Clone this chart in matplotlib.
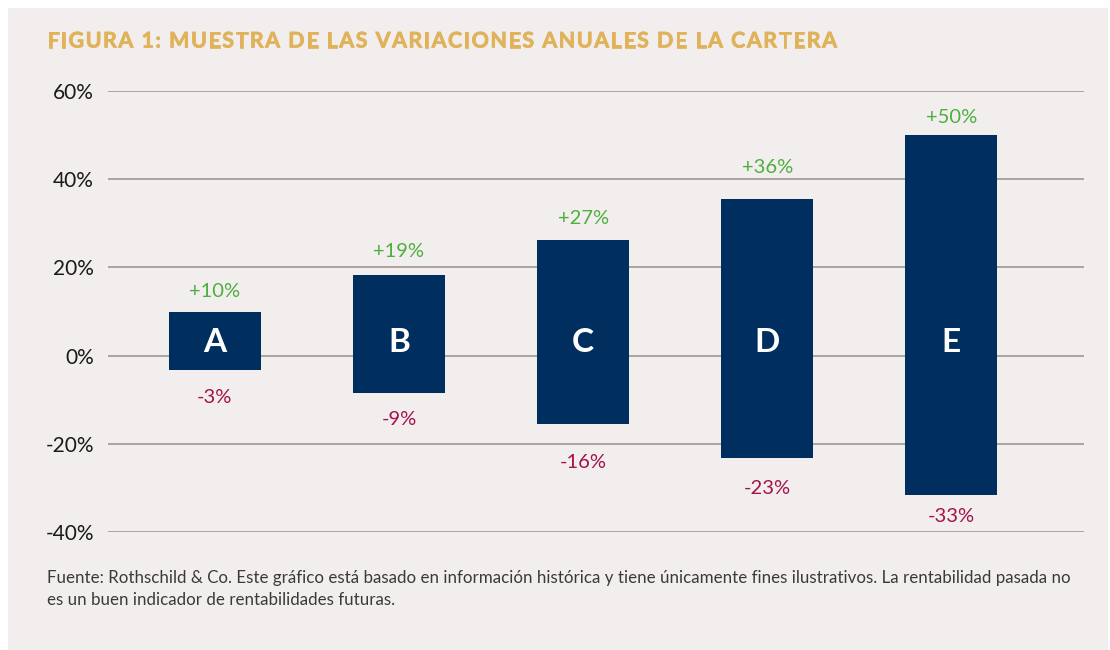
import matplotlib
matplotlib.use("Agg")
import matplotlib.pyplot as plt
import matplotlib.patheffects as pe
from matplotlib.patches import Rectangle
from matplotlib.font_manager import FontProperties, findfont
from matplotlib.ft2font import FT2Font

# data
categories = ["A", "B", "C", "D", "E"]
upside = [10.0, 18.3, 26.3, 35.5, 50.0]
downside = [-3.3, -8.4, -15.4, -23.3, -31.5]
up_labels = ["+10%", "+19%", "+27%", "+36%", "+50%"]
down_labels = ["-3%", "-9%", "-16%", "-23%", "-33%"]
yticks = [-40, -20, 0, 20, 40, 60]

# hand placed label gaps in the original (pixels from bar end to label centre)
up_gap = [22, 25.5, 23, 34, 19.5]
down_gap = [25, 25, 37, 28, 20]

title = "FIGURA 1: MUESTRA DE LAS VARIACIONES ANUALES DE LA CARTERA"
note = ("Fuente: Rothschild & Co. Este gráfico está basado en información histórica y tiene únicamente fines ilustrativos. La rentabilidad pasada no\n"
        "es un buen indicador de rentabilidades futuras.")

FONT = "Lato"
BG = "#f2eeed"
NAVY = "#002f5f"
GOLD = "#e0b25a"
GREEN = "#4caf3f"
RED = "#a3124c"

W, H = 1110, 650
PX = 0.72  # points per pixel at dpi 100
fig = plt.figure(figsize=(W / 100, H / 100), dpi=100)
fig.patch.set_facecolor("white")
fig.patches.append(Rectangle((8 / W, 0), 1100 / W, 642 / H, transform=fig.transFigure,
                             facecolor=BG, edgecolor="none", zorder=-10))

ax = fig.add_axes([108 / W, 1 - 532 / H, (1084 - 108) / W, (532 - 91) / H])
ax.set_facecolor("none")
x = list(range(len(categories)))
heights = [u - d for u, d in zip(upside, downside)]
ax.bar(x, heights, bottom=downside, width=0.5, color=NAVY, zorder=3)

ax.set_xlim(-0.58, 4.72)
ax.set_ylim(-40, 60)
ax.set_yticks(yticks)
ax.set_yticklabels([f"{t}%" for t in yticks], fontsize=15, family=FONT, color="#1a1a1a")
ax.tick_params(axis="y", length=0, pad=10)
ax.set_xticks([])
ax.grid(axis="y", color="#a9a49e", linewidth=1.4, zorder=0)
for s in ax.spines.values():
    s.set_visible(False)

half_cap = 7.5
for i, cat in enumerate(categories):
    ax.text(i, 3, cat, ha="center", va="center", color="white", fontsize=24,
            fontweight="bold", family=FONT, zorder=4)
    ax.annotate(up_labels[i], (i, upside[i]), xytext=(0, (up_gap[i] - half_cap) * PX),
                textcoords="offset points", ha="center", va="baseline",
                color=GREEN, fontsize=14.5, family=FONT)
    ax.annotate(down_labels[i], (i, downside[i]), xytext=(0, -(down_gap[i] + half_cap) * PX),
                textcoords="offset points", ha="center", va="baseline",
                color=RED, fontsize=14.5, family=FONT)

# letter-spaced title, laid out glyph by glyph from the font advances
tprops = dict(family=FONT, weight="bold", size=15.5)
ft = FT2Font(findfont(FontProperties(**tprops)))
ft.set_size(tprops["size"], 100)
advances = [ft.load_char(ord(ch)).linearHoriAdvance / 65536 for ch in title]
natural = sum(advances)
tracking = (790 - natural) / (len(title) - 1)
thick = [pe.withStroke(linewidth=0.5, foreground=GOLD)]
pen = 47.0
for ch, adv in zip(title, advances):
    if ch != " ":
        fig.text((pen + adv / 2) / W, 1 - 41 / H, ch, color=GOLD, ha="center", va="center",
                 path_effects=thick, **tprops)
    pen += adv + tracking

fig.text(47 / W, 1 - 589 / H, note, ha="left", va="center", fontsize=12.2, family=FONT,
         color="#3a3a3a", linespacing=1.45)

fig.savefig("out.png", dpi=100, facecolor=fig.get_facecolor())
